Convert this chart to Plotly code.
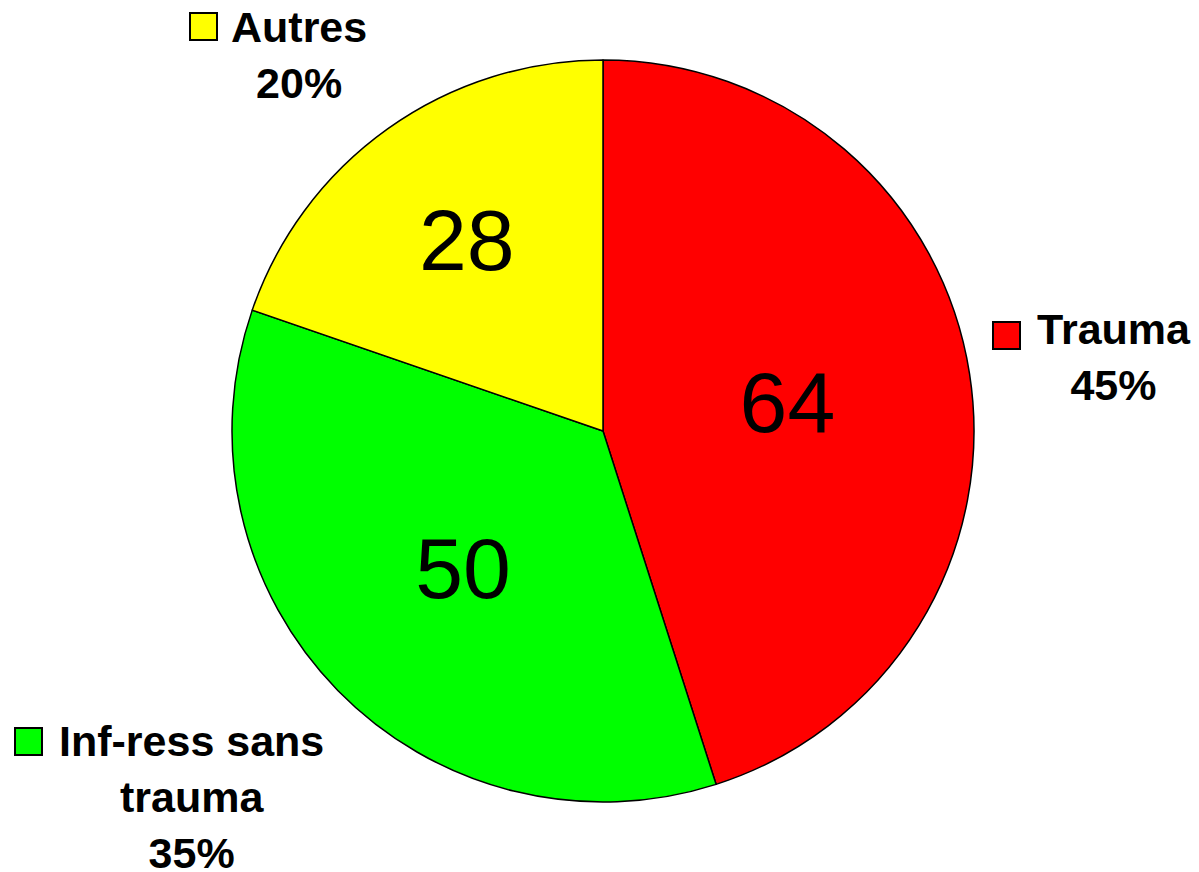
import plotly.graph_objects as go

categories = ["Trauma", "Inf-ress sans<br>trauma", "Autres"]
values = [64, 50, 28]
colors = ["#FF0000", "#00FF00", "#FFFF00"]

# the page body has an 8px margin; size the figure so it fits the window
OFF = 8
W, H = 1199 - OFF, 872 - OFF
total = sum(values)
pcts = [round(v * 100 / total) for v in values]


def px(x):
    return (x - OFF) / W


def py(y):
    return (H - (y - OFF)) / H


# pie geometry (window pixels): center (603, 431), radius 371
cx, cy, r = 603, 431, 371

fig = go.Figure(
    go.Pie(
        labels=categories,
        values=values,
        sort=False,
        direction="clockwise",
        rotation=0,
        marker=dict(colors=colors, line=dict(color="black", width=1.5)),
        textinfo="value",
        textposition="inside",
        insidetextorientation="horizontal",
        textfont=dict(family="Liberation Sans, Arial", size=86, color="black"),
        domain=dict(x=[px(cx - r), px(cx + r)], y=[py(cy + r), py(cy - r)]),
        showlegend=False,
        hoverinfo="label+value+percent",
    )
)

# outside labels: (text center x, text center y, square x0, y0)
label_pos = [
    (1114, 357, 993, 322),
    (191, 797, 15, 728),
    (299, 55, 190, 13),
]
sq = 27
annotations = []
shapes = []
for cat, p, col, (tx, ty, sx, sy) in zip(categories, pcts, colors, label_pos):
    annotations.append(
        dict(
            text=f"<b>{cat}<br>{p}%</b>",
            x=px(tx), y=py(ty), xref="paper", yref="paper",
            xanchor="center", yanchor="middle", showarrow=False,
            align="center", borderpad=0,
            font=dict(family="Liberation Sans, Arial", size=43, color="black"),
        )
    )
    shapes.append(
        dict(
            type="rect", xref="paper", yref="paper",
            x0=px(sx), x1=px(sx + sq), y0=py(sy + sq), y1=py(sy),
            fillcolor=col, line=dict(color="black", width=2),
        )
    )

fig.update_layout(
    width=W, height=H, autosize=False,
    margin=dict(l=0, r=0, t=0, b=0),
    paper_bgcolor="white", plot_bgcolor="white",
    annotations=annotations, shapes=shapes,
)

fig.write_html("out.html")
